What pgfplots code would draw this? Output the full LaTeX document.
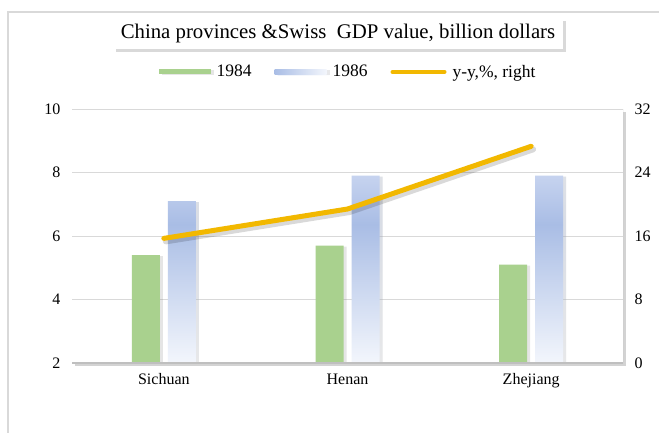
\documentclass[border=0pt]{standalone}
\usepackage{fontspec}
\setmainfont{Liberation Serif}
\usepackage{pgfplots}
\pgfplotsset{compat=1.18}
\usetikzlibrary{shadows}
\definecolor{grn}{HTML}{A9D18E}
\definecolor{bluemid}{HTML}{A9BDE5}
\definecolor{bluetop}{HTML}{C6D3EF}
\definecolor{bluebot}{HTML}{F3F6FC}
\definecolor{gold}{HTML}{F2B800}
\definecolor{gridc}{HTML}{D9D9D9}
\definecolor{axc}{HTML}{BFBFBF}
\pgfdeclareverticalshading{bluebar}{100bp}{color(0bp)=(bluebot); color(25bp)=(bluebot); color(62bp)=(bluemid); color(75bp)=(bluetop); color(100bp)=(bluetop)}

\begin{document}
\begin{tikzpicture}[x=1pt,y=1pt]
\useasboundingbox (0,0) rectangle (659,432);
% outer frame
\draw[gridc, line width=1.5pt] (8,-5) -- (8,420) -- (665,420);
% plot area
\fill[white, drop shadow={shadow xshift=3pt, shadow yshift=-3pt, opacity=0.35}] (72,69) rectangle (623,323);
% title
\node[fill=white, drop shadow={shadow xshift=3pt, shadow yshift=-3pt, opacity=0.3},
      minimum width=450pt, minimum height=31pt, inner sep=0pt,
      font=\fontsize{20.8}{24}\selectfont] at (338,398.5)
      {China provinces \&Swiss\ \ GDP value, billion dollars};

\begin{axis}[
    at={(72pt,69pt)}, anchor=south west,
    scale only axis, width=551pt, height=254pt,
    xmin=-0.5, xmax=2.5, ymin=2, ymax=10,
    xtick={0,1,2}, xticklabels={Sichuan,Henan,Zhejiang},
    ytick={2,4,...,10},
    axis line style={draw=none},
    major tick length=0pt,
    ymajorgrids, grid style={gridc, line width=1pt},
    tick label style={font=\fontsize{16}{18}\selectfont},
    /pgf/number format/assume math mode=true,
    yticklabel style={xshift=-8pt},
    xticklabel style={yshift=-7pt},
    legend style={at={(0.5,1.146)}, anchor=center, draw=none, fill=none,
        legend columns=3, font=\fontsize{17.5}{19}\selectfont,
        /tikz/every odd column/.append style={column sep=5pt},
        /tikz/every even column/.append style={column sep=22pt},
        nodes={inner sep=1pt}},
]
\addplot[ybar, bar width=28pt, bar shift=-18pt, fill=grn, draw=none,
    drop shadow={shadow xshift=3pt, shadow yshift=-1pt, opacity=0.2},
    legend image code/.code={\fill[grn] (0pt,-2.5pt) rectangle (52pt,2.5pt);}]
    coordinates {(0,5.4) (1,5.7) (2,5.1)};
\addlegendentry{1984}
\addplot[ybar, bar width=28pt, bar shift=18pt, shading=bluebar, draw=none,
    drop shadow={shadow xshift=3pt, shadow yshift=-1pt, opacity=0.2},
    legend image code/.code={\shade[left color=bluemid, right color=bluebot] (0pt,-2.5pt) rectangle (52pt,2.5pt);}]
    coordinates {(0,7.1) (1,7.9) (2,7.9)};
\addlegendentry{1986}
\addlegendimage{gold, line width=4pt, line cap=round,
    legend image code/.code={\draw[gold, line width=4pt, line cap=round] (2pt,0pt) -- (54pt,0pt);}}
\addlegendentry{y-y,\%, right}
\draw[axc, line width=1.5pt] (rel axis cs:0,0) -- (rel axis cs:1,0);
\draw[axc, line width=1pt] (rel axis cs:1,0) -- (rel axis cs:1,1);
\end{axis}

\begin{axis}[
    at={(72pt,69pt)}, anchor=south west,
    scale only axis, width=551pt, height=254pt,
    xmin=-0.5, xmax=2.5, ymin=0, ymax=32,
    ytick={0,8,...,32}, xtick=\empty,
    axis y line*=right, axis x line=none,
    axis line style={draw=none},
    major tick length=0pt,
    tick label style={font=\fontsize{16}{18}\selectfont},
    /pgf/number format/assume math mode=true,
    yticklabel style={xshift=8pt},
]
\addplot[gold, line width=5pt, line cap=round,
    preaction={draw, black, opacity=0.15, line width=6pt, transform canvas={xshift=2pt, yshift=-3pt}}]
    coordinates {(0,15.7) (1,19.4) (2,27.3)};
\end{axis}
\end{tikzpicture}
\end{document}
